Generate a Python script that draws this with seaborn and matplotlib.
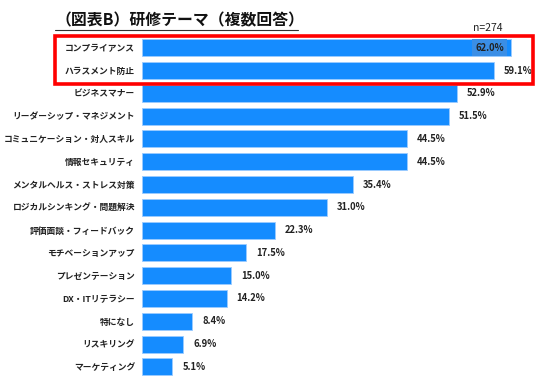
import matplotlib.pyplot as plt
import pandas as pd
import seaborn as sns
from matplotlib.patches import Rectangle

# ── Data ─────────────────────────────────────────────────────────────────────
themes = [
    "コンプライアンス",
    "ハラスメント防止",
    "ビジネスマナー",
    "リーダーシップ・マネジメント",
    "コミュニケーション・対人スキル",
    "情報セキュリティ",
    "メンタルヘルス・ストレス対策",
    "ロジカルシンキング・問題解決",
    "評価面談・フィードバック",
    "モチベーションアップ",
    "プレゼンテーション",
    "DX・ITリテラシー",
    "特になし",
    "リスキリング",
    "マーケティング",
]
shares = [62.0, 59.1, 52.9, 51.5, 44.5, 44.5, 35.4, 31.0, 22.3, 17.5, 15.0, 14.2, 8.4, 6.9, 5.1]
title = "（図表B）研修テーマ（複数回答）"
sample_note = "n=274"

# ── Style ────────────────────────────────────────────────────────────────────
sns.set_theme(style="white")
plt.rcParams["font.family"] = ["Noto Sans CJK JP", "DejaVu Sans"]
BAR_COLOR = "#158CFF"

df = pd.DataFrame({"theme": themes, "share": shares})

fig = plt.figure(figsize=(5.36, 3.79), dpi=100)
ax = fig.add_axes([142 / 536, 0.002, 393 / 536, 0.902])

sns.barplot(
    data=df, x="share", y="theme", orient="h", color=BAR_COLOR,
    saturation=1, width=0.75, edgecolor="#9CCBFF", linewidth=0.6, ax=ax,
)
ax.set_xlim(0, 66)
ax.set_ylim(len(themes) - 0.5, -0.5)
ax.set_xlabel("")
ax.set_ylabel("")
ax.set_xticks([])
for side in ax.spines.values():
    side.set_visible(False)
ax.tick_params(axis="y", length=0, pad=5)
for lbl in ax.get_yticklabels():
    lbl.set_fontsize(6.3)
    lbl.set_fontweight("bold")
    lbl.set_color("#222222")

# value labels
for i, v in enumerate(shares):
    if i == 0:
        ax.text(v - 1.2, i, f"{v:.1f}%", ha="right", va="center", fontsize=6.8,
                fontweight="bold", color="#222222",
                bbox=dict(boxstyle="square,pad=0.35", fc="#3A8EE6", ec="none"))
    else:
        ax.text(v + 1.7, i, f"{v:.1f}%", ha="left", va="center", fontsize=6.8,
                fontweight="bold", color="#222222")

# title with underline
fig.text(56 / 536, 1 - 20 / 379, title, fontsize=11.4, fontweight="bold",
         color="#111111", va="center", ha="left")
fig.add_artist(plt.Line2D([55 / 536, 298 / 536], [1 - 30 / 379, 1 - 30 / 379],
                          color="#333333", linewidth=0.8))
fig.text(503 / 536, 1 - 28 / 379, sample_note, fontsize=7.5, color="#222222",
         ha="right", va="center")

# red highlight box around the top two rows
fig.add_artist(Rectangle((55 / 536, 1 - 84 / 379), 478 / 536, 48 / 379,
                         fill=False, edgecolor="#FF0000", linewidth=2.6,
                         transform=fig.transFigure))

fig.savefig("out.png", dpi=100)
